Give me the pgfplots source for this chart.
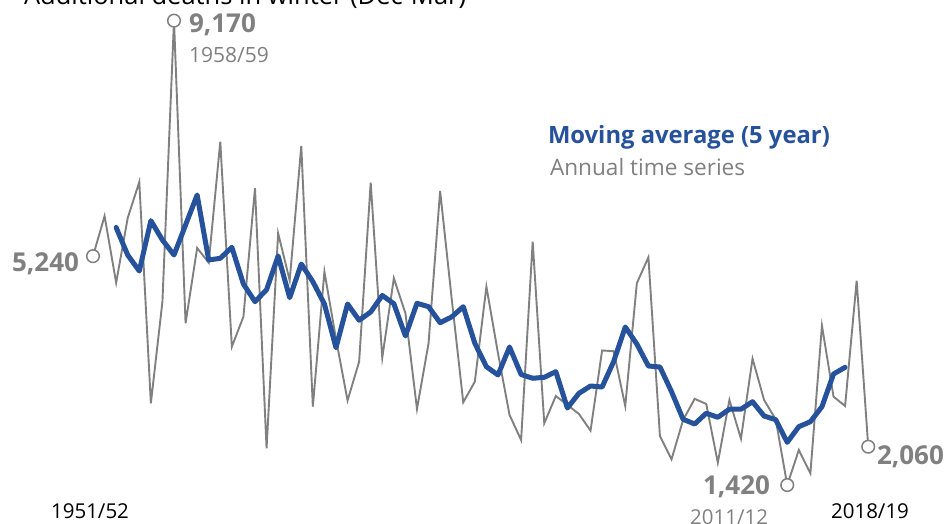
\documentclass[border=0pt]{standalone}
\usepackage{pgfplots}
\pgfplotsset{compat=1.18}
\usepackage{pgfplotstable}
\usepackage{fontspec}
\setmainfont{Open Sans}
\definecolor{ser}{RGB}{128,128,128}
\definecolor{mav}{RGB}{38,81,155}
\definecolor{lab}{RGB}{128,128,128}

\pgfplotstableread{
i v
0 5240
1 5910
2 4797
3 5877
4 6478
5 2784
6 4480
7 9170
8 4120
9 5376
10 5131
11 7150
12 3729
13 4230
14 6373
15 2033
16 5622
17 4834
18 7079
19 2728
20 4981
21 3860
22 2831
23 3479
24 6466
25 3545
26 4871
27 4290
28 2689
29 3786
30 6328
31 4530
32 2801
33 3145
34 4730
35 3620
36 2589
37 2172
38 5481
39 2451
40 2906
41 2756
42 2606
43 2327
44 3666
45 3654
46 2739
47 4787
48 5221
49 2234
50 1850
51 2506
52 2859
53 2773
54 1793
55 2839
56 2194
57 3529
58 2839
59 2517
60 1420
61 2005
62 1616
63 4080
64 2895
65 2739
66 4831
67 2060
}\annual

\pgfplotstableread{
i v
2 5718
3 5259
4 4992
5 5832
6 5510
7 5259
8 5760
9 6261
10 5176
11 5204
12 5388
13 4775
14 4480
15 4680
16 5243
17 4547
18 5109
19 4814
20 4442
21 3712
22 4442
23 4170
24 4308
25 4584
26 4447
27 3908
28 4453
29 4397
30 4130
31 4225
32 4397
33 3786
34 3395
35 3257
36 3724
37 3265
38 3202
39 3218
40 3312
41 2706
42 2951
43 3073
44 3056
45 3482
46 4058
47 3774
48 3407
49 3390
50 2978
51 2517
52 2439
53 2618
54 2551
55 2686
56 2686
57 2811
58 2572
59 2511
60 2133
61 2394
62 2477
63 2728
64 3273
65 3385
}\mavg

\begin{document}
\begin{tikzpicture}[x=1bp,y=1bp]
\useasboundingbox (0,0) rectangle (944,524);
\clip (0,0) rectangle (944,524);
\begin{axis}[
  at={(0,0)}, anchor=south west,
  scale only axis, width=944bp, height=524bp,
  xmin=-8.038, xmax=73.55, ymin=770, ymax=9515,
  hide axis, clip=false,
]
\addplot[ser, line width=1.9bp, line join=miter] table[x=i,y=v] {\annual};
\addplot[mav, line width=5bp, line join=round, line cap=round] table[x=i,y=v] {\mavg};
\addplot[only marks, mark=*, mark size=6.3bp, mark options={draw=ser, fill=white, line width=1.5bp}]
  coordinates {(0,5240) (7,9170) (60,1420) (67,2060)};
\end{axis}
\tikzset{every node/.style={inner sep=0pt, outer sep=0pt}}
\node[anchor=base west, text=black] at (24,519) {\fontsize{25.5bp}{30bp}\selectfont Additional deaths in winter (Dec-Mar)};
\node[anchor=base west, text=lab] at (189,491) {\fontsize{26bp}{30bp}\selectfont\bfseries 9,170};
\node[anchor=base west, text=lab] at (189,461) {\fontsize{21bp}{25bp}\selectfont 1958/59};
\node[anchor=base east, text=lab] at (79,252) {\fontsize{26bp}{30bp}\selectfont\bfseries 5,240};
\node[anchor=base west, text=mav] at (548,380) {\fontsize{23.8bp}{28bp}\selectfont\bfseries Moving average (5 year)};
\node[anchor=base west, text=lab] at (550,348) {\fontsize{22.6bp}{27bp}\selectfont Annual time series};
\node[anchor=base west, text=lab] at (877,59) {\fontsize{26bp}{30bp}\selectfont\bfseries 2,060};
\node[anchor=base east, text=lab] at (770,29) {\fontsize{26bp}{30bp}\selectfont\bfseries 1,420};
\node[anchor=base east, text=lab] at (768,-1) {\fontsize{20.5bp}{24bp}\selectfont 2011/12};
\node[anchor=base, text=black] at (90,5) {\fontsize{20.5bp}{24bp}\selectfont 1951/52};
\node[anchor=base, text=black] at (870,5) {\fontsize{20.5bp}{24bp}\selectfont 2018/19};
\end{tikzpicture}
\end{document}
